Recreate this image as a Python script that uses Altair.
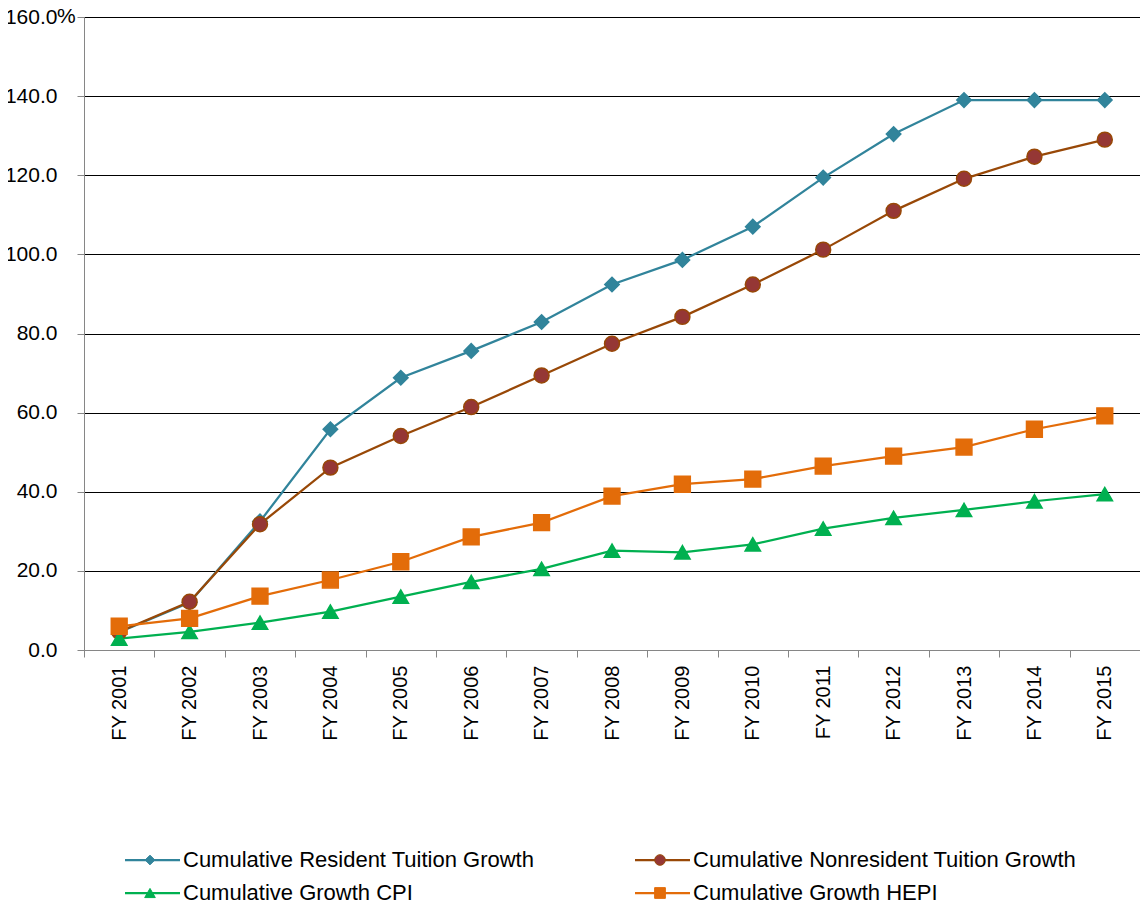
import altair as alt
import pandas as pd

years = ["FY 2001", "FY 2002", "FY 2003", "FY 2004", "FY 2005", "FY 2006", "FY 2007",
         "FY 2008", "FY 2009", "FY 2010", "FY 2011", "FY 2012", "FY 2013", "FY 2014", "FY 2015"]

series_names = ["Cumulative Resident Tuition Growth", "Cumulative Nonresident Tuition Growth",
                "Cumulative Growth CPI", "Cumulative Growth HEPI"]

resident = [4.5, 12.0, 32.5, 55.8, 68.8, 75.6, 82.9, 92.4, 98.6, 107.0, 119.4, 130.4, 139.0, 139.0, 139.0]
nonresident = [4.6, 12.2, 31.8, 46.1, 54.1, 61.4, 69.4, 77.4, 84.2, 92.4, 101.2, 111.0, 119.1, 124.7, 129.0]
cpi = [2.9, 4.6, 6.9, 9.7, 13.5, 17.2, 20.5, 25.1, 24.7, 26.7, 30.7, 33.4, 35.4, 37.6, 39.4]
hepi = [6.0, 8.0, 13.6, 17.7, 22.3, 28.6, 32.2, 38.9, 41.9, 43.2, 46.5, 49.0, 51.3, 55.8, 59.2]

line_colors = ["#31849B", "#984807", "#00B050", "#E36C09"]
fill_colors = ["#31849B", "#953735", "#00B050", "#E36C09"]
shapes = ["diamond", "circle", "triangle-up", "square"]
sizes = [210, 250, 250, 256]

rows = []
for name, vals in zip(series_names, [resident, nonresident, cpi, hepi]):
    for yr, v in zip(years, vals):
        rows.append({"year": yr, "series": name, "value": v})
df = pd.DataFrame(rows)

FONT = "Liberation Sans"
W, H = 1056, 633

x_enc = alt.X("year:N", sort=years, bandPosition=0.5,
              scale=alt.Scale(type="band", paddingInner=0, paddingOuter=0),
              axis=alt.Axis(title=None, labelAngle=270, labelFontSize=20, labelFont=FONT,
                            labelColor="#000000", labelPadding=8, tickBand="extent",
                            tickSize=7, tickColor="#868686", domainColor="#868686",
                            grid=False))
y_enc = alt.Y("value:Q", scale=alt.Scale(domain=[0, 160], nice=False, zero=True),
              axis=alt.Axis(title=None, values=[0, 20, 40, 60, 80, 100, 120, 140, 160],
                            format=".1f", labelFontSize=21, labelFont=FONT, labelColor="#000000",
                            labelPadding=20, tickSize=7, tickColor="#868686",
                            domainColor="#868686", grid=True, gridColor="#000000",
                            gridWidth=1))

color_scale = alt.Scale(domain=series_names, range=line_colors)

lines = alt.Chart(df).mark_line(strokeWidth=2.25).encode(
    x=x_enc, y=y_enc,
    color=alt.Color("series:N", scale=color_scale, legend=None),
    detail="series:N",
)

points = alt.Chart(df).mark_point(filled=True, opacity=1, strokeWidth=1.5).encode(
    x=x_enc, y=y_enc,
    shape=alt.Shape("series:N", scale=alt.Scale(domain=series_names, range=shapes), legend=None),
    fill=alt.Fill("series:N", scale=alt.Scale(domain=series_names, range=fill_colors), legend=None),
    stroke=alt.Stroke("series:N", scale=alt.Scale(domain=series_names, range=line_colors), legend=None),
    size=alt.Size("series:N", scale=alt.Scale(domain=series_names, range=sizes), legend=None),
)

pct = alt.Chart(pd.DataFrame({"value": [160]})).mark_text(
    text="%", align="left", baseline="middle", fontSize=21, font=FONT, color="#000000"
).encode(x=alt.value(-27), y=y_enc)

layers = [lines, points, pct]

# manual legend (2 columns x 2 rows)
for i, name in enumerate(series_names):
    col, row = i % 2, i // 2
    x0 = 41 + col * 510
    yy = 843 + row * 33
    d = pd.DataFrame({"series": [name]})
    layers.append(alt.Chart(d).mark_rule(color=line_colors[i], strokeWidth=2.25).encode(
        x=alt.value(x0), x2=alt.value(x0 + 55), y=alt.value(yy)))
    layers.append(alt.Chart(d).mark_point(
        shape=shapes[i], filled=True, fill=fill_colors[i], stroke=line_colors[i],
        strokeWidth=1.0, opacity=1, size=sizes[i] * 0.45).encode(
        x=alt.value(x0 + 25), y=alt.value(yy)))
    layers.append(alt.Chart(d).mark_text(
        align="left", baseline="middle", fontSize=22, font=FONT, color="#000000").encode(
        x=alt.value(x0 + 58), y=alt.value(yy), text="series:N"))

chart = alt.layer(*layers).properties(
    width=W, height=H,
    autosize=alt.AutoSizeParams(type="none"),
    padding={"left": 76, "top": 9, "right": 0, "bottom": 250},
).configure_view(stroke=None).configure(background="#ffffff")

chart.save("out.html", embed_options={"renderer": "svg", "actions": False})
